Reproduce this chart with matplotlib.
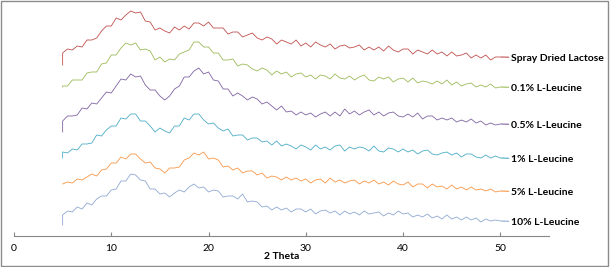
import numpy as np
import matplotlib; matplotlib.use("Agg"); import matplotlib.pyplot as plt
from matplotlib.patches import Rectangle

# XRD scans, 2 theta 5-50 in 0.5 deg steps, offset intensities (arb. units)
names = ["Spray Dried Lactose", "0.1% L-Leucine", "0.5% L-Leucine",
         "1% L-Leucine", "5% L-Leucine", "10% L-Leucine"]
colors = ["#C0504D", "#9BBB59", "#8064A2", "#4BACC6", "#F79646", "#8FA8D2"]
first_counts = [171, 149, 104, 78, 52, 11]   # first reading at 5 deg (before jump)

lactose = [183, 187, 186, 190, 189, 196, 196, 198, 205, 210,
           210, 218, 216, 221, 225, 223, 224, 215, 214, 206,
           208, 205, 203, 209, 206, 210, 207, 213, 213, 210,
           214, 208, 208, 208, 202, 204, 204, 199, 201, 203,
           198, 196, 199, 197, 192, 196, 194, 192, 196, 190,
           193, 189, 194, 191, 189, 192, 187, 190, 191, 188,
           189, 191, 186, 189, 186, 189, 185, 190, 186, 184,
           187, 187, 182, 186, 184, 182, 186, 182, 184, 180,
           184, 180, 181, 183, 178, 181, 178, 181, 176, 179,
           179]
leu_01 = [150, 150, 156, 156, 156, 163, 164, 164, 172, 173,
          181, 181, 188, 193, 191, 193, 186, 187, 185, 176,
          179, 174, 177, 176, 182, 184, 186, 194, 194, 189,
          189, 183, 183, 176, 176, 177, 170, 172, 171, 167,
          165, 168, 166, 161, 165, 162, 164, 159, 162, 163,
          159, 161, 157, 161, 160, 157, 162, 158, 157, 160,
          156, 159, 161, 156, 155, 159, 157, 159, 154, 157,
          158, 154, 158, 153, 155, 154, 152, 155, 152, 156,
          151, 154, 150, 152, 153, 149, 151, 149, 152, 148,
          149]
leu_05 = [115, 120, 120, 121, 128, 127, 133, 132, 138, 144,
          143, 150, 157, 156, 162, 159, 160, 151, 146, 146,
          140, 136, 140, 147, 150, 159, 159, 165, 168, 162,
          164, 156, 155, 147, 147, 140, 143, 140, 136, 139,
          137, 132, 134, 130, 126, 130, 124, 125, 121, 124,
          121, 123, 119, 122, 124, 120, 124, 120, 127, 122,
          125, 121, 124, 126, 121, 124, 120, 123, 124, 120,
          119, 122, 119, 123, 117, 120, 120, 116, 118, 116,
          118, 114, 116, 114, 117, 113, 115, 111, 113, 111,
          112]
leu_1 = [84, 83, 87, 86, 92, 92, 93, 101, 100, 106,
         110, 110, 118, 117, 122, 122, 115, 115, 110, 104,
         108, 105, 103, 110, 110, 118, 116, 122, 122, 116,
         112, 113, 108, 105, 107, 100, 101, 101, 96, 98,
         98, 94, 95, 91, 95, 90, 92, 90, 87, 91,
         89, 86, 91, 87, 89, 86, 90, 91, 85, 89,
         87, 89, 88, 85, 90, 85, 84, 88, 87, 84,
         87, 84, 86, 82, 85, 86, 82, 81, 83, 84,
         81, 83, 79, 82, 82, 79, 78, 81, 78, 80,
         78]
leu_5 = [52, 54, 53, 57, 56, 59, 62, 60, 66, 67,
         73, 73, 79, 77, 82, 82, 77, 73, 74, 68,
         67, 63, 68, 68, 69, 76, 78, 83, 81, 84,
         77, 78, 76, 69, 70, 66, 68, 63, 65, 65,
         61, 63, 58, 60, 59, 56, 59, 56, 58, 55,
         57, 53, 56, 57, 53, 58, 54, 56, 53, 55,
         56, 52, 55, 53, 56, 52, 54, 51, 55, 52,
         51, 54, 49, 52, 52, 48, 52, 49, 50, 47,
         51, 47, 49, 46, 49, 46, 47, 45, 47, 44,
         45]
leu_10 = [21, 25, 24, 29, 27, 33, 31, 37, 40, 40,
          46, 47, 55, 55, 62, 61, 56, 55, 47, 47,
          42, 43, 39, 43, 46, 44, 49, 52, 48, 49,
          44, 46, 45, 39, 40, 40, 37, 42, 34, 35,
          34, 29, 30, 26, 29, 26, 28, 24, 27, 27,
          24, 27, 22, 25, 26, 23, 25, 21, 25, 22,
          24, 21, 25, 22, 23, 24, 20, 23, 21, 25,
          22, 23, 19, 21, 19, 22, 18, 20, 17, 21,
          17, 19, 16, 19, 16, 18, 14, 17, 15, 16,
          15]
series = [lactose, leu_01, leu_05, leu_1, leu_5, leu_10]

fig = plt.figure(figsize=(6.1, 2.67), dpi=100)
ax = fig.add_axes([14/610, 31/267, 535/610, 232/267])
for name, col, y0, vals in zip(names, colors, first_counts, series):
    th = np.concatenate([[5.0], np.linspace(5, 50, len(vals))])
    y = np.concatenate([[y0], vals])
    ax.plot(th, y, color=col, lw=0.6)
    ax.annotate(name, xy=(th[-1], y[-1]), xytext=(8, -1), textcoords="offset points",
                va="center", ha="left", fontsize=7.5, fontweight="bold",
                family="Lato", color="black",
                arrowprops=dict(arrowstyle="-", color=col, lw=0.8, shrinkA=0, shrinkB=0.5))

ax.set_xlim(0, 55); ax.set_ylim(0, 232)
for s in ["top", "right", "left"]:
    ax.spines[s].set_visible(False)
ax.spines["bottom"].set_color("#868686"); ax.spines["bottom"].set_linewidth(0.8)
ax.set_yticks([])
ax.set_xticks([0, 10, 20, 30, 40, 50])
ax.tick_params(axis="x", direction="in", length=3, color="#868686", labelsize=7.5, pad=6)
for t in ax.get_xticklabels():
    t.set_family("Lato")
ax.set_xlabel("2 Theta", fontsize=7.5, fontweight="bold", family="Lato", labelpad=-1)
fig.patches.append(Rectangle((1/610, 1/267), 607/610, 265/267, transform=fig.transFigure,
                             fill=False, edgecolor="#8c8c8c", lw=1))
fig.savefig("out.png", dpi=100)
